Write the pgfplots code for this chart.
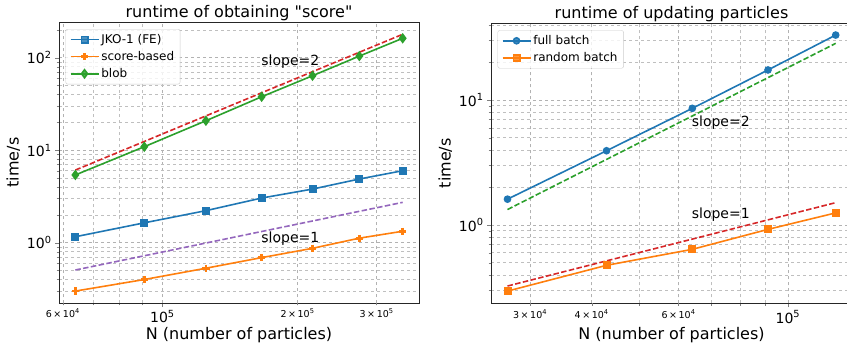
\documentclass[border=0pt]{standalone}
\usepackage{pgfplots}
\pgfplotsset{compat=1.18}
\usepackage{fontspec}
\setmainfont{DejaVu Sans}[Ligatures=TeXOff]
\definecolor{tblue}{HTML}{1F77B4}
\definecolor{torange}{HTML}{FF7F0E}
\definecolor{tgreen}{HTML}{2CA02C}
\definecolor{tred}{HTML}{D62728}
\definecolor{tpurple}{HTML}{9467BD}
\pgfplotsset{legend image code/.code={\draw[mark repeat=2,mark phase=2] plot coordinates {(0pt,0pt) (14pt,0pt) (28pt,0pt)};}}
\begin{document}
\begin{tikzpicture}
\begin{axis}[xmode=log, ymode=log, scale only axis, anchor=south west,
    at={(59pt,46pt)}, width=360pt, height=281pt,
    grid=both,
    major grid style={dashed, black!30, line width=0.6pt},
    minor grid style={dashed, black!25, line width=0.5pt},
    tick align=outside, tick pos=left,
    major tick length=4pt, minor tick length=2.5pt,
    axis line style={line width=0.8pt, black!85},
    tick label style={font=\fontsize{14}{16}\selectfont},
    label style={font=\fontsize{16}{19}\selectfont},
    xlabel style={yshift=9pt},
    title style={font=\fontsize{16}{19}\selectfont, yshift=-8pt},
    legend style={font=\fontsize{12}{14}\selectfont, at={(0.018,0.975)}, anchor=north west,
      draw=black!20, rounded corners=2pt, fill=white, fill opacity=0.8, text opacity=1,
      row sep=2.5pt, inner xsep=4pt, inner ysep=3pt},
    legend cell align=left,
    ylabel={time/s}, xlabel={N (number of particles)},
  xmin=58850, xmax=373000, ymin=0.223, ymax=243,
  xtick={100000}, xticklabels={10\textsuperscript{5}},
  minor xtick={60000,70000,80000,90000,200000,300000},
  extra x ticks={60000,200000,300000},
  extra x tick labels={6\,×\,10\textsuperscript{4},2\,×\,10\textsuperscript{5},3\,×\,10\textsuperscript{5}},
  extra x tick style={tick label style={font=\fontsize{9.5}{11}\selectfont}, major tick length=2.5pt},
  ytick={1,10,100}, yticklabels={10\textsuperscript{0},10\textsuperscript{1},10\textsuperscript{2}},
  minor ytick={0.3,0.4,0.5,0.6,0.7,0.8,0.9,2,3,4,5,6,7,8,9,20,30,40,50,60,70,80,90,200},
  title={runtime of obtaining "score"},
]
\addplot[line width=1.6pt, tblue, mark=square*, mark size=3.2pt] coordinates {
(64000,1.16) (91125,1.64) (125000,2.22) (166375,3.04) (216000,3.80) (274625,4.88) (343000,6.0)};
\addlegendentry{JKO-1 (FE)}
\addplot[line width=1.6pt, torange, mark=+, mark size=3.6pt, mark options={line width=2.8pt, solid}] coordinates {
(64000,0.30) (91125,0.40) (125000,0.53) (166375,0.69) (216000,0.87) (274625,1.12) (343000,1.33)};
\addlegendentry{score-based}
\addplot[line width=1.6pt, tgreen, mark=diamond*, mark size=4pt] coordinates {
(64000,5.4) (91125,10.9) (125000,20.8) (166375,37.8) (216000,63.8) (274625,104) (343000,162)};
\addlegendentry{blob}
\addplot[line width=1.6pt, dash pattern=on 5.5pt off 2.4pt, tred, forget plot] coordinates {(64000,6.1) (343000,179)};
\addplot[line width=1.6pt, dash pattern=on 5.5pt off 2.4pt, tpurple, forget plot] coordinates {(64000,0.507) (343000,2.73)};
\node[font=\fontsize{14}{16}\selectfont] at (axis cs:192800,90) {slope=2};
\node[font=\fontsize{14}{16}\selectfont] at (axis cs:192800,1.12) {slope=1};
\end{axis}
\begin{axis}[xmode=log, ymode=log, scale only axis, anchor=south west,
    at={(491pt,45.7pt)}, width=361pt, height=280pt,
    grid=both,
    major grid style={dashed, black!30, line width=0.6pt},
    minor grid style={dashed, black!25, line width=0.5pt},
    tick align=outside, tick pos=left,
    major tick length=4pt, minor tick length=2.5pt,
    axis line style={line width=0.8pt, black!85},
    tick label style={font=\fontsize{14}{16}\selectfont},
    label style={font=\fontsize{16}{19}\selectfont},
    xlabel style={yshift=9pt},
    title style={font=\fontsize{16}{19}\selectfont, yshift=-8pt},
    legend style={font=\fontsize{12}{14}\selectfont, at={(0.018,0.975)}, anchor=north west,
      draw=black!20, rounded corners=2pt, fill=white, fill opacity=0.8, text opacity=1,
      row sep=2.5pt, inner xsep=4pt, inner ysep=3pt},
    legend cell align=left,
    ylabel={time/s}, xlabel={N (number of particles)},
  xmin=25000, xmax=134900, ymin=0.2364, ymax=41.1,
  xtick={100000}, xticklabels={10\textsuperscript{5}},
  minor xtick={30000,40000,50000,60000,70000,80000,90000},
  extra x ticks={30000,40000,60000},
  extra x tick labels={3\,×\,10\textsuperscript{4},4\,×\,10\textsuperscript{4},6\,×\,10\textsuperscript{4}},
  extra x tick style={tick label style={font=\fontsize{9.5}{11}\selectfont}, major tick length=2.5pt},
  ytick={1,10}, yticklabels={10\textsuperscript{0},10\textsuperscript{1}},
  minor ytick={0.3,0.4,0.5,0.6,0.7,0.8,0.9,2,3,4,5,6,7,8,9,20,30,40},
  title={runtime of updating particles},
]
\addplot[line width=1.6pt, tblue, mark=*, mark size=3pt] coordinates {
(27000,1.61) (42875,3.93) (64000,8.58) (91125,17.4) (125000,33.1)};
\addlegendentry{full batch}
\addplot[line width=1.6pt, torange, mark=square*, mark size=3.2pt] coordinates {
(27000,0.296) (42875,0.476) (64000,0.639) (91125,0.923) (125000,1.25)};
\addlegendentry{random batch}
\addplot[line width=1.6pt, dash pattern=on 5.5pt off 2.4pt, tgreen, forget plot] coordinates {(27000,1.33) (125000,28.4)};
\addplot[line width=1.6pt, dash pattern=on 5.5pt off 2.4pt, tred, forget plot] coordinates {(27000,0.325) (125000,1.51)};
\node[font=\fontsize{14}{16}\selectfont] at (axis cs:73100,6.55) {slope=2};
\node[font=\fontsize{14}{16}\selectfont] at (axis cs:73100,1.20) {slope=1};
\end{axis}
\pgfresetboundingbox
\useasboundingbox (0,0) rectangle (847pt,349pt);
\end{tikzpicture}
\end{document}
